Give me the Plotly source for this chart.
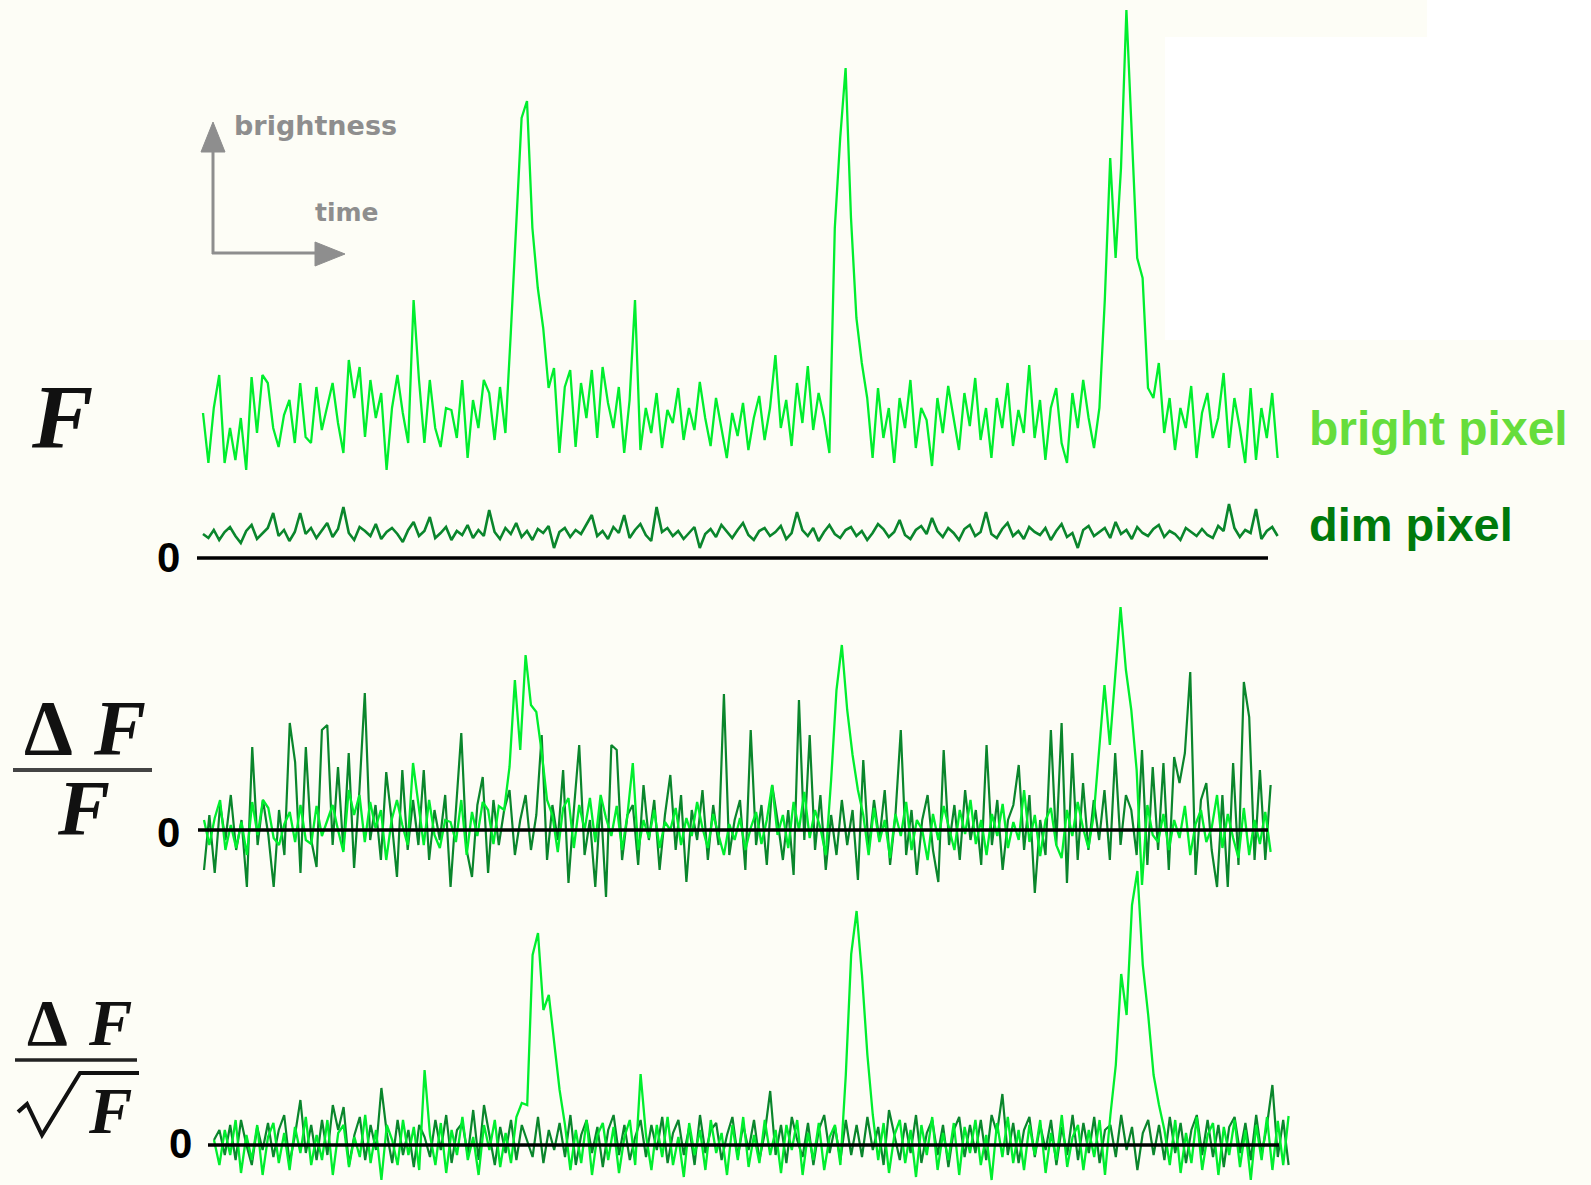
import plotly.graph_objects as go

W, H = 1591, 1185

# ---------------- data (arbitrary units, 200 samples per trace) ----------------
bright_F = [
    145, 95, 150, 183, 95, 130, 98, 140, 88, 181, 125, 183, 175, 130, 111, 143, 158, 115, 175, 121,
    115, 171, 128, 150, 175, 135, 105, 198, 160, 191, 121, 178, 140, 165, 88, 150, 183, 145, 115, 258,
    178, 115, 178, 130, 111, 150, 148, 120, 178, 100, 158, 130, 178, 165, 118, 171, 125, 225, 330, 440,
    457, 330, 270, 230, 170, 190, 105, 171, 188, 111, 175, 140, 188, 120, 191, 155, 130, 171, 105, 158,
    258, 108, 150, 125, 165, 110, 148, 135, 170, 118, 150, 128, 176, 140, 112, 160, 130, 100, 145, 122,
    155, 108, 140, 162, 118, 150, 203, 130, 158, 112, 175, 135, 192, 128, 165, 140, 105, 330, 420, 490,
    340, 240, 195, 160, 100, 170, 120, 150, 95, 160, 130, 178, 110, 150, 138, 92, 160, 125, 172, 140,
    108, 165, 132, 180, 118, 150, 100, 160, 130, 175, 112, 148, 125, 193, 120, 158, 98, 150, 170, 115,
    95, 165, 130, 178, 140, 110, 150, 258, 400, 300, 390, 548, 420, 300, 280, 170, 160, 195, 125, 160,
    108, 150, 130, 172, 100, 145, 165, 120, 140, 185, 110, 160, 130, 95, 170, 98, 150, 120, 165, 100,
]
dim_F = [
    24, 20, 28, 18, 26, 31, 22, 15, 27, 33, 19, 25, 30, 45, 22, 28, 17, 26, 45, 24,
    30, 20, 27, 35, 21, 29, 51, 25, 18, 31, 27, 22, 34, 19, 26, 30, 24, 16, 28, 36,
    22, 27, 41, 20, 25, 31, 18, 27, 23, 33, 20, 28, 22, 48, 26, 19, 30, 24, 35, 21,
    27, 18, 29, 25, 32, 10, 26, 30, 21, 28, 24, 33, 43, 22, 27, 19, 31, 25, 43, 20,
    28, 34, 23, 17, 51, 26, 30, 22, 27, 19, 25, 31, 10, 24, 29, 21, 33, 26, 20, 28,
    35, 23, 18, 27, 30, 22, 26, 32, 19, 25, 46, 28, 22, 30, 17, 26, 33, 24, 20, 28,
    31, 22, 27, 18, 25, 34, 29, 21, 26, 38, 23, 19, 28, 32, 24, 40, 27, 21, 30, 25,
    18, 29, 33, 22, 26, 46, 24, 20, 29, 35, 22, 27, 19, 31, 26, 23, 30, 18, 27, 34,
    21, 25, 10, 28, 32, 22, 26, 30, 20, 36, 24, 28, 19, 31, 25, 22, 29, 33, 21, 27,
    24, 18, 30, 26, 22, 29, 23, 20, 32, 27, 54, 30, 21, 28, 25, 49, 19, 27, 31, 22,
]
bright_dF_over_F = [
    10, -15, 12, 30, -20, 5, -18, 8, -25, 28, -5, 30, 22, -8, -15, 6, 18, -12, 25, -10,
    -14, 24, -6, 10, 25, 0, -22, 40, 15, 35, -12, 28, 2, 20, -30, 10, 30, 5, -15, 67,
    28, -15, 30, -5, -18, 10, 8, -12, 30, -25, 18, -6, 28, 20, -14, 24, 20, 63, 150, 80,
    175, 125, 118, 78, 30, 15, -22, 22, 32, -18, 25, 0, 32, -12, 35, 12, -6, 24, -20, 15,
    67, -20, 10, -8, 20, -18, 8, 0, 22, -15, 12, -6, 28, 2, -18, 16, -5, -25, 6, -10,
    12, -20, 2, 18, -14, 10, 45, -5, 15, -18, 28, 0, 38, -8, 20, 2, -25, 50, 140, 185,
    120, 75, 40, 15, -25, 22, -12, 10, -28, 16, -6, 28, -20, 10, 0, -30, 16, -10, 24, 2,
    -20, 20, -4, 30, -14, 10, -25, 16, -6, 26, -18, 8, -10, 40, -12, 15, -26, 10, 22, -15,
    -28, 20, -6, 28, 2, -18, 15, 80, 145, 85, 150, 223, 160, 120, 60, -55, 25, -5, -12, 16,
    -20, 10, -8, 24, -25, 6, 20, -12, 2, 35, -18, 16, -8, -28, 22, -25, 10, -14, 18, -22,
]
dim_dF_over_F = [
    -40, 15, -43, 25, -10, 35, -20, 10, -57, 83, -15, 30, -5, -57, 20, -25, 107, 68, -43, 83,
    -10, -37, 100, 105, -15, 63, -20, 77, -38, 40, 137, -10, 25, -30, 58, 10, -47, 60, -20, 30,
    -15, 60, -30, 20, -10, 35, -57, 15, 97, -20, -47, 25, 53, -43, 30, -15, 20, 40, -25, 10,
    35, -20, 15, 95, -30, 25, -10, 60, -53, 20, 85, -25, 10, -57, 30, -67, 85, 80, -30, 15,
    25, -35, 45, -10, 30, -40, 15, 55, -20, 35, -52, 20, -10, 40, -30, 25, -15, 136, -25, 10,
    30, -40, 100, -15, 25, -35, 45, 10, -30, 20, -45, 130, -10, 95, -20, 35, -40, 15, -25, 30,
    -15, 20, -50, 70, -20, 30, -10, 40, -35, 15, 100, -25, 20, -45, 10, 35, -20, -52, 80, -15,
    25, -30, 40, -10, 20, -35, 85, -15, 30, -40, 10, 25, 65, -20, 35, -63, 10, -25, 100, -15,
    107, -53, 77, -30, 47, -20, 30, -10, 40, -30, 77, -15, 35, 20, -25, 80, -35, 63, -20, 67,
    -40, 73, 47, 77, 158, -45, 30, 47, -20, -57, 35, -57, 67, -35, 148, 113, -30, 60, -30, 45,
]
bright_dF_over_sqrtF = [
    5, -20, 15, -10, 25, -28, 10, -15, 20, -30, 8, 22, -18, 12, -25, 18, -8, 28, -20, 10,
    -15, 25, -30, 12, 20, -22, 8, -12, 30, -18, 15, -35, 20, 5, -20, 25, -10, 18, -25, 75,
    10, -20, 22, -28, 15, -10, 28, -15, 8, -30, 20, -5, 25, -22, 12, -18, 28, 42, 40, 190,
    212, 135, 150, 100, 55, 20, -25, 15, -18, 25, -30, 10, 22, -15, 18, -28, 8, 25, -20, 71,
    10, -25, 20, -12, 28, -20, 8, -32, 22, -10, 15, -25, 25, -8, 12, -30, 20, -15, 28, -22,
    10, -18, 25, -10, 15, -28, 20, -5, 25, -30, 12, -15, 22, -25, 8, 20, -20, 70, 191, 234,
    170, 90, 30, -15, 22, -28, 10, 25, -18, 15, -32, 20, -10, 28, -25, 12, -15, 22, -30, 18,
    -8, 25, -20, 10, -35, 22, -12, 28, -18, 15, -25, 20, -10, 25, -28, 12, -15, 30, -22, 8,
    20, -25, 15, -12, 25, -30, 30, 80, 171, 130, 240, 274, 180, 130, 70, 40, 15, -20, 25, -28,
    12, -18, 28, -25, 10, 22, -30, 18, -10, 25, -22, 15, -35, 20, -15, 28, -25, 24, -20, 29,
]
dim_dF_over_sqrtF = [
    5, 15, -10, 20, -15, 25, 0, -20, 18, -5, 22, -12, 15, 30, -18, 10, 45, -8, 20, -15,
    25, -10, 40, 15, 38, -20, 10, 28, -15, 20, -5, 57, 12, -18, 25, -10, 15, -22, 20, 8,
    -12, 25, -5, 30, -18, 15, 22, -10, 35, -15, 40, 10, -20, 18, -8, 25, -15, 20, 5, -12,
    28, -18, 15, -5, 22, -12, 30, -20, 10, 25, -8, 18, -22, 15, 30, -10, 20, -15, 8, 25,
    -12, 20, -5, 28, -18, 12, 25, -10, 18, -20, 30, -8, 15, 22, -15, 10, 28, -12, 20, -5,
    25, -15, 12, 54, -10, 20, -18, 28, 5, -12, 22, -20, 15, 30, -8, 18, -15, 25, -10, 20,
    -12, 28, -5, 18, -20, 35, 10, -15, 22, -8, 30, -18, 12, 25, -10, 20, -22, 15, 28, -12,
    20, -8, 25, -15, 30, 12, 51, -10, 22, -18, 15, 28, -12, 20, -5, 25, -20, 18, -10, 30,
    -15, 22, -8, 28, -18, 15, 20, -12, 30, -5, 18, -25, 12, 25, -10, 20, -15, 28, -8, 22,
    -18, 15, 30, -10, 25, -12, 20, -22, 18, 28, -8, 22, -15, 30, -10, 20, 60, -12, 25, -20,
]

# ---------------- style ----------------
BG = "#fdfdf6"
BRIGHT = "#00ee2e"
DIM = "#0a862c"
GREY = "#8e8e8e"
SANS = "Liberation Sans, Arial, sans-serif"
SERIF = "Liberation Serif, Times New Roman, serif"


def px(x):
    return x / W


def py(y):
    return 1 - y / H


panels = [
    dict(bright=bright_F, dim=dim_F, x0=203, dx=5.4, zero=558, top=0, bottom=575,
         left=195, right=1290, lx=(197, 1268), lab=(168, 557), wd=2.6, wb=2.3),
    dict(bright=bright_dF_over_F, dim=dim_dF_over_F, x0=204, dx=5.36, zero=830, top=580, bottom=905,
         left=195, right=1290, lx=(198, 1268), lab=(168, 832), wd=2.2, wb=2.3),
    dict(bright=bright_dF_over_sqrtF, dim=dim_dF_over_sqrtF, x0=214, dx=5.4, zero=1145, top=850, bottom=1185,
         left=205, right=1300, lx=(208, 1279), lab=(180, 1143), wd=2.2, wb=2.3),
]

fig = go.Figure()
shapes = [
    # faint white patch in the top-right corner of the original picture
    dict(type="rect", xref="paper", yref="paper", x0=px(1165), x1=1, y0=py(340), y1=py(37),
         fillcolor="white", line=dict(width=0), layer="below"),
    dict(type="rect", xref="paper", yref="paper", x0=px(1427), x1=1, y0=py(37), y1=1,
         fillcolor="white", line=dict(width=0), layer="below"),
]
annotations = []
axes = {}

for k, p in enumerate(panels, start=1):
    xa = "x" if k == 1 else f"x{k}"
    ya = "y" if k == 1 else f"y{k}"
    for key, col, w in (("dim", DIM, p["wd"]), ("bright", BRIGHT, p["wb"])):
        vals = p[key]
        fig.add_trace(go.Scatter(x=list(range(len(vals))), y=vals, mode="lines",
                                 line=dict(color=col, width=w), xaxis=xa, yaxis=ya,
                                 hoverinfo="skip", showlegend=False))
    axes["xaxis" if k == 1 else f"xaxis{k}"] = dict(
        domain=[px(p["left"]), px(p["right"])],
        range=[(p["left"] - p["x0"]) / p["dx"], (p["right"] - p["x0"]) / p["dx"]],
        visible=False, anchor=ya, fixedrange=True)
    axes["yaxis" if k == 1 else f"yaxis{k}"] = dict(
        domain=[py(p["bottom"]), py(p["top"])],
        range=[p["zero"] - p["bottom"], p["zero"] - p["top"]],
        visible=False, anchor=xa, fixedrange=True)
    shapes.append(dict(type="line", xref="paper", yref=ya, x0=px(p["lx"][0]), x1=px(p["lx"][1]),
                       y0=0, y1=0, line=dict(color="black", width=3.5), layer="above"))
    annotations.append(dict(text="<b>0</b>", x=px(p["lab"][0]), y=py(p["lab"][1]), xref="paper", yref="paper",
                            xanchor="center", yanchor="middle", showarrow=False,
                            font=dict(family=SANS, size=42, color="black")))

# brightness / time arrow icon
shapes += [
    dict(type="line", xref="paper", yref="paper", x0=px(213), x1=px(213), y0=py(254), y1=py(150),
         line=dict(color=GREY, width=3)),
    dict(type="path", xref="paper", yref="paper",
         path=f"M {px(201)},{py(152)} L {px(213)},{py(122)} L {px(225)},{py(152)} Z",
         fillcolor=GREY, line=dict(color=GREY, width=1)),
    dict(type="line", xref="paper", yref="paper", x0=px(212), x1=px(318), y0=py(253), y1=py(253),
         line=dict(color=GREY, width=3)),
    dict(type="path", xref="paper", yref="paper",
         path=f"M {px(315)},{py(242)} L {px(345)},{py(254)} L {px(315)},{py(266)} Z",
         fillcolor=GREY, line=dict(color=GREY, width=1)),
]
annotations += [
    dict(text="<b>brightness</b>", x=px(232), y=py(125), xref="paper", yref="paper", xanchor="left",
         yanchor="middle", showarrow=False, font=dict(family="DejaVu Sans", size=27, color=GREY)),
    dict(text="<b>time</b>", x=px(313), y=py(213), xref="paper", yref="paper", xanchor="left",
         yanchor="middle", showarrow=False, font=dict(family="DejaVu Sans", size=25, color=GREY)),
]

# row labels (math-like)
annotations += [
    dict(text="<b><i>F</i></b>", x=px(62), y=py(417), xref="paper", yref="paper", xanchor="center",
         yanchor="middle", showarrow=False, font=dict(family=SERIF, size=92, color="#111111")),
    dict(text="<b>Δ</b>", x=px(48), y=py(727), xref="paper", yref="paper", xanchor="center",
         yanchor="middle", showarrow=False, font=dict(family=SERIF, size=78, color="#111111")),
    dict(text="<b><i>F</i></b>", x=px(120), y=py(727), xref="paper", yref="paper", xanchor="center",
         yanchor="middle", showarrow=False, font=dict(family=SERIF, size=78, color="#111111")),
    dict(text="<b><i>F</i></b>", x=px(83), y=py(807), xref="paper", yref="paper", xanchor="center",
         yanchor="middle", showarrow=False, font=dict(family=SERIF, size=78, color="#111111")),
    dict(text="<b>Δ</b>", x=px(47), y=py(1023), xref="paper", yref="paper", xanchor="center",
         yanchor="middle", showarrow=False, font=dict(family=SERIF, size=65, color="#111111")),
    dict(text="<b><i>F</i></b>", x=px(110), y=py(1023), xref="paper", yref="paper", xanchor="center",
         yanchor="middle", showarrow=False, font=dict(family=SERIF, size=65, color="#111111")),
    dict(text="<b><i>F</i></b>", x=px(110), y=py(1111), xref="paper", yref="paper", xanchor="center",
         yanchor="middle", showarrow=False, font=dict(family=SERIF, size=65, color="#111111")),
]
shapes += [
    dict(type="line", xref="paper", yref="paper", x0=px(13), x1=px(152), y0=py(770), y1=py(770),
         line=dict(color="#444444", width=4)),
    dict(type="line", xref="paper", yref="paper", x0=px(15), x1=px(137), y0=py(1060), y1=py(1060),
         line=dict(color="#222222", width=3.5)),
    dict(type="path", xref="paper", yref="paper",
         path=(f"M {px(18)},{py(1112)} L {px(27)},{py(1104)} L {px(42)},{py(1135)} "
               f"L {px(80)},{py(1073)} L {px(139)},{py(1073)}"),
         line=dict(color="#111111", width=4)),
]

# series labels
annotations += [
    dict(text="<b>bright pixel</b>", x=px(1307), y=py(428), xref="paper", yref="paper", xanchor="left",
         yanchor="middle", showarrow=False, font=dict(family=SANS, size=48, color="#66dd3c")),
    dict(text="<b>dim pixel</b>", x=px(1307), y=py(525), xref="paper", yref="paper", xanchor="left",
         yanchor="middle", showarrow=False, font=dict(family=SANS, size=47, color="#007a0c")),
]

fig.update_layout(
    width=W, height=H, autosize=False,
    margin=dict(l=0, r=0, t=0, b=0, pad=0),
    paper_bgcolor=BG, plot_bgcolor="rgba(0,0,0,0)",
    showlegend=False, shapes=shapes, annotations=annotations,
    **axes,
)

fig.write_html("out.html", config={"displayModeBar": False})
